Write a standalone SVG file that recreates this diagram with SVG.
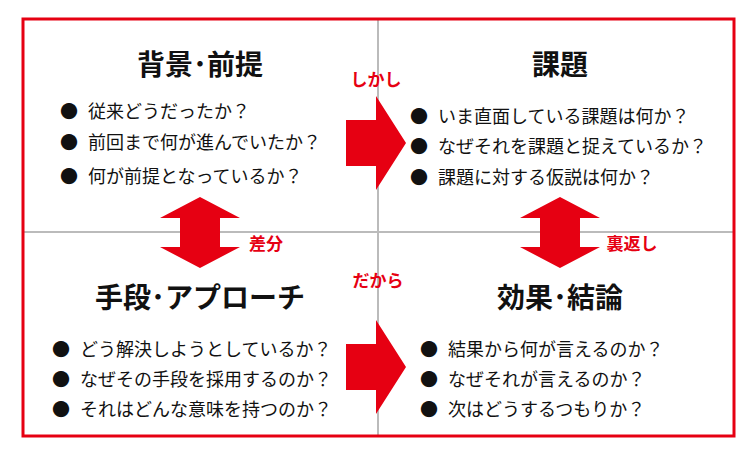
<svg xmlns="http://www.w3.org/2000/svg" width="755" height="456" viewBox="0 0 755 456">
<style>
.t{font-family:"Noto Sans CJK JP",sans-serif;font-weight:bold;font-size:28px;fill:#111;text-anchor:middle}
.b{font-family:"Noto Sans CJK JP",sans-serif;font-size:18px;fill:#111}
.l{font-family:"Noto Sans CJK JP",sans-serif;font-weight:bold;font-size:17px;fill:#e60012;text-anchor:middle}
.ar{fill:#e60012}
</style>
<rect width="755" height="456" fill="#fff"/>
<g id="grid"><line x1="378" y1="20" x2="378" y2="436" stroke="#bbb" stroke-width="2"/><line x1="23" y1="232" x2="734" y2="232" stroke="#bbb" stroke-width="2"/></g>
<rect x="23" y="19" width="711" height="417" fill="none" stroke="#e60012" stroke-width="3"/>
<g id="q1"><text class="t" x="200" y="75">背景･前提</text>
<g class="b"><text x="60" y="118">●<tspan dx="10">従来どうだったか？</tspan></text><text x="60" y="149">●<tspan dx="10">前回まで何が進んでいたか？</tspan></text><text x="60" y="183">●<tspan dx="10">何が前提となっているか？</tspan></text></g></g>
<g id="q2"><text class="t" x="560" y="75">課題</text>
<g class="b"><text x="410" y="123">●<tspan dx="10">いま直面している課題は何か？</tspan></text><text x="410" y="153">●<tspan dx="10">なぜそれを課題と捉えているか？</tspan></text><text x="410" y="184">●<tspan dx="10">課題に対する仮説は何か？</tspan></text></g></g>
<g id="q3"><text class="t" x="200" y="308">手段･アプローチ</text>
<g class="b"><text x="52" y="356">●<tspan dx="10">どう解決しようとしているか？</tspan></text><text x="52" y="386">●<tspan dx="10">なぜその手段を採用するのか？</tspan></text><text x="52" y="416">●<tspan dx="10">それはどんな意味を持つのか？</tspan></text></g></g>
<g id="q4"><text class="t" x="560" y="308">効果･結論</text>
<g class="b"><text x="420" y="356">●<tspan dx="10">結果から何が言えるのか？</tspan></text><text x="420" y="386">●<tspan dx="10">なぜそれが言えるのか？</tspan></text><text x="420" y="416">●<tspan dx="10">次はどうするつもりか？</tspan></text></g></g>
<g id="connectors">
<polygon class="ar" points="346,120 376,120 376,96 406,143 376,190 376,166 346,166"/>
<polygon class="ar" points="346,344 376,344 376,320 406,367 376,414 376,390 346,390"/>
<polygon class="ar" points="200,197 240,218 220,218 220,247 240,247 200,268 160,247 180,247 180,218 160,218"/>
<polygon class="ar" points="560,197 600,218 580,218 580,247 600,247 560,268 520,247 540,247 540,218 520,218"/>
<text class="l" x="376" y="86">しかし</text>
<text class="l" x="378" y="287">だから</text>
<text class="l" x="266" y="250">差分</text>
<text class="l" x="632" y="250">裏返し</text>
</g>
</svg>
